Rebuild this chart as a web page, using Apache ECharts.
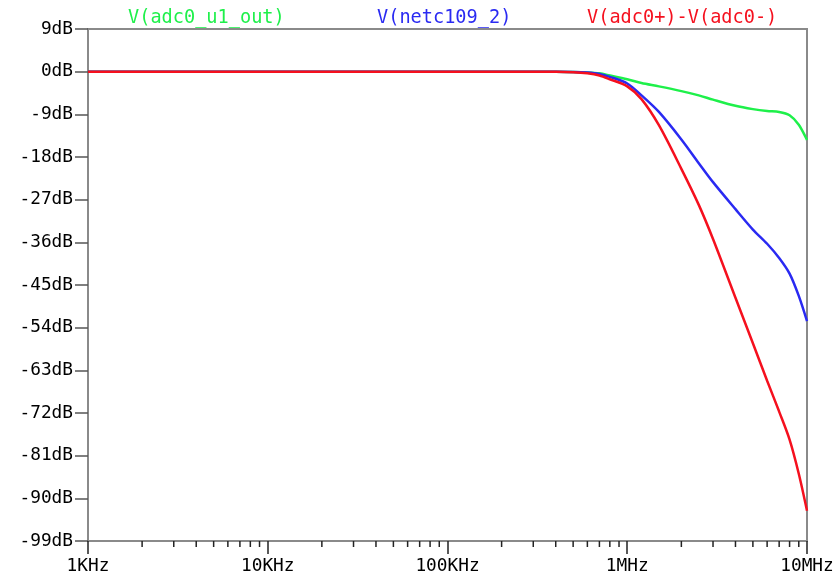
<!DOCTYPE html>
<html>
<head>
<meta charset="utf-8">
<script src="https://cdn.jsdelivr.net/npm/echarts@6/dist/echarts.min.js"></script>
<style>
  html, body { margin: 0; padding: 0; background: #fff; }
  #chart { width: 838px; height: 580px; }
</style>
</head>
<body>
<div id="chart"></div>
<script>
// frequencies in Hz
const freqs = [1e3, 1e4, 1e5, 2e5, 3e5, 4e5, 5e5, 6e5, 7e5, 8e5, 1e6, 1.2e6, 1.5e6, 2e6, 2.5e6, 3e6, 4e6, 5e6, 6e6, 7e6, 8e6, 9e6, 1e7];
// magnitudes in dB
const gainU1Out = [0, 0, 0, 0, 0, 0, -0.05, -0.15, -0.35, -0.8, -1.6, -2.4, -3.1, -4.1, -5.0, -5.9, -7.2, -7.9, -8.3, -8.5, -9.2, -11.2, -14.4];
const gainC109 = [0, 0, 0, 0, 0, 0, -0.05, -0.2, -0.5, -1.1, -2.5, -5.0, -8.5, -14.3, -19.3, -23.3, -29.0, -33.3, -36.3, -39.3, -42.6, -47.3, -52.6];
const gainDiff = [0, 0, 0, 0, 0, 0, -0.1, -0.35, -0.8, -1.6, -3.1, -5.8, -11.3, -20.5, -28.1, -35.3, -47.7, -57.3, -65.2, -71.7, -77.6, -84.8, -92.6];

const seriesNames = ['V(adc0_u1_out)', 'V(netc109_2)', 'V(adc0+)-V(adc0-)'];
const seriesColors = ['#1ef04a', '#2a2af2', '#f5101e'];
const freqLabels = { 3: '1KHz', 4: '10KHz', 5: '100KHz', 6: '1MHz', 7: '10MHz' };
const minorMults = [2, 3, 4, 5, 6, 7, 8, 9];
const decades = [1e3, 1e4, 1e5, 1e6];

const font = 'DejaVu Sans Mono';
const chart = echarts.init(document.getElementById('chart'));

const pair = arr => freqs.map((f, i) => [f, arr[i]]);

const minorTicks = [];
decades.forEach(d => minorMults.forEach(m => minorTicks.push([d * m, -99])));

const lineSeries = [gainU1Out, gainC109, gainDiff].map((arr, i) => ({
  name: seriesNames[i],
  type: 'line',
  data: pair(arr),
  showSymbol: false,
  smooth: 0.3,
  lineStyle: { color: seriesColors[i], width: 2.5 },
  itemStyle: { color: seriesColors[i] },
  z: 3 + i
}));

const legendLefts = [123, 372, 582];

chart.setOption({
  animation: false,
  backgroundColor: '#fff',
  legend: seriesNames.map((n, i) => ({
    data: [n],
    left: legendLefts[i],
    top: 9,
    padding: 0,
    icon: 'none',
    itemWidth: 0,
    itemGap: 0,
    selectedMode: false,
    textStyle: { color: seriesColors[i], fontFamily: font, fontSize: 18.6 }
  })),
  grid: {
    left: 88, right: 31, top: 29, bottom: 39,
    show: true, borderColor: '#8a8a8a', borderWidth: 2, backgroundColor: '#fff'
  },
  xAxis: {
    type: 'log',
    logBase: 10,
    min: 1e3,
    max: 1e7,
    splitNumber: 4,
    axisLine: { show: true, onZero: false, lineStyle: { color: '#8a8a8a', width: 2 } },
    axisTick: { show: true, length: 13, lineStyle: { color: '#222', width: 1.5 } },
    splitLine: { show: false },
    axisLabel: {
      margin: 16,
      color: '#000',
      fontFamily: font,
      fontSize: 17.8,
      formatter: v => freqLabels[Math.round(Math.log10(v))] || ''
    }
  },
  yAxis: {
    type: 'value',
    min: -99,
    max: 9,
    interval: 9,
    axisLine: { show: true, onZero: false, lineStyle: { color: '#8a8a8a', width: 2 } },
    axisTick: { show: true, length: 13, lineStyle: { color: '#555', width: 1.5 } },
    splitLine: { show: false },
    axisLabel: {
      margin: 15,
      color: '#000',
      fontFamily: font,
      fontSize: 17.8,
      formatter: v => v + 'dB'
    }
  },
  series: [
    {
      type: 'custom',
      silent: true,
      clip: false,
      z: 1,
      data: minorTicks,
      renderItem: (params, api) => {
        const p = api.coord([api.value(0), api.value(1)]);
        return {
          type: 'line',
          shape: { x1: p[0], y1: p[1], x2: p[0], y2: p[1] + 6 },
          style: { stroke: '#222', lineWidth: 1.5 }
        };
      }
    }
  ].concat(lineSeries)
});
</script>
</body>
</html>
